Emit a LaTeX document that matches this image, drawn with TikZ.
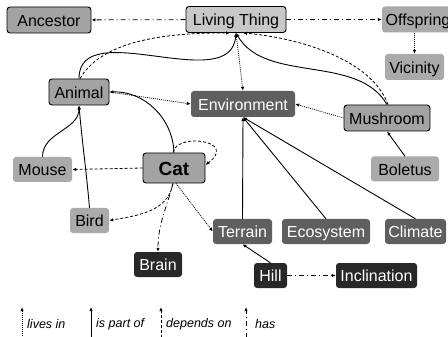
\documentclass[tikz,border=0pt]{standalone}
\usepackage{fontspec}
\setmainfont{Liberation Sans}
\usetikzlibrary{arrows.meta}
\definecolor{ltfill}{HTML}{C8C8C8}
\definecolor{midfill}{HTML}{A3A3A3}
\definecolor{plainfill}{HTML}{AAAAAA}
\definecolor{darkfill}{HTML}{5F5F5F}
\definecolor{blackfill}{HTML}{282828}
\begin{document}
\begin{tikzpicture}[x=1pt,y=-1pt,
  box/.style={rounded corners=3pt, inner sep=0pt, minimum height=26pt,
    font=\fontsize{16}{19}\selectfont, text height=12.6pt, text depth=0pt},
  bordered/.style={box, fill=midfill, draw=black, line width=0.9pt},
  lightbox/.style={box, fill=ltfill, draw=black, line width=0.9pt},
  plain/.style={box, fill=plainfill},
  darkbox/.style={box, fill=darkfill, text=white},
  blackbox/.style={box, fill=blackfill, text=white},
  catfont/.style={font=\fontsize{19}{22}\selectfont\bfseries, text height=14.5pt},
  tip/.style={-{Latex[length=4pt,width=3.4pt]}},
  partlink/.style={tip, line width=0.9pt},
  livesinlink/.style={tip, line width=0.75pt, dash pattern=on 1pt off 1pt},
  dependlink/.style={tip, line width=0.8pt, dash pattern=on 3pt off 2pt},
  haslink/.style={tip, line width=0.8pt, dash pattern=on 5pt off 3pt on 1pt off 3pt},
  keytext/.style={anchor=west, inner sep=0pt, font=\fontsize{12.5}{15}\selectfont\itshape}
]
\clip (0,0) rectangle (448,337);
\fill[white] (0,0) rectangle (448,337);

% concepts
\node[bordered, minimum width=84pt]  (anc)     at (49,20)      {Ancestor};
\node[lightbox, minimum width=100pt] (lt)      at (236,19.5)   {Living Thing};
\node[plain, minimum width=72pt]     (off)     at (418,19.5)   {Offspring};
\node[plain, minimum width=59pt]     (vic)     at (414.5,67)   {Vicinity};
\node[bordered, minimum width=60pt]  (animal)  at (79,92)      {Animal};
\node[darkbox, minimum width=104pt]  (env)     at (243,104)    {Environment};
\node[bordered, minimum width=86pt]  (mush)    at (387,118)    {Mushroom};
\node[plain, minimum width=68pt, minimum height=25pt] (bol) at (405,169) {Boletus};
\node[plain, minimum width=59pt, minimum height=25pt] (mouse) at (42.5,169.5) {Mouse};
\node[bordered, catfont, minimum width=62pt, minimum height=30pt] (cat) at (174,168) {Cat};
\node[plain, minimum width=39pt, minimum height=25pt] (bird) at (89.5,220.5) {Bird};
\node[darkbox, minimum width=59pt, minimum height=25pt] (terrain) at (242.5,231.5) {Terrain};
\node[darkbox, minimum width=88pt, minimum height=25pt] (eco)     at (326,231.5)   {Ecosystem};
\node[darkbox, minimum width=61pt, minimum height=25pt] (clim)    at (415.5,231.5) {Climate};
\node[blackbox, minimum width=48pt, minimum height=25pt] (brain) at (158,264.5) {Brain};
\node[blackbox, minimum width=33pt, minimum height=25pt] (hill)  at (270.5,275.5) {Hill};
\node[blackbox, minimum width=81pt, minimum height=25pt] (incl)  at (376.5,275.5) {Inclination};

% "has" relations
\draw[haslink] (lt) -- (anc);
\draw[haslink] (lt) -- (off);
\draw[haslink] (hill) -- (incl);
\draw[haslink] ([xshift=-1pt]cat.south) to[out=-105, in=90] (brain.north);

% "lives in" relations
\draw[livesinlink] (off.south -| vic.north) -- (vic.north);
\draw[livesinlink] (lt.south) -- (env.north);
\draw[livesinlink] (animal.east) -- (env.west);
\draw[livesinlink] (mush.west) -- (env.east);
\draw[livesinlink] ([xshift=2pt]cat.south) -- (terrain.west);

% "is part of" relations
\draw[partlink] (animal.north) to[out=90, in=-95] (lt.south);
\draw[partlink] (mush.north) to[out=120, in=-60, looseness=0.9] (lt.south);
\draw[partlink] (mouse.north) to[out=90, in=-90] (animal.south);
\draw[partlink] (bird.north) to[out=95, in=-85] (animal.south);
\draw[partlink] (cat.north) to[out=92, in=2] (animal.east);
\draw[partlink] (bol.north) -- (mush.south);
\draw[partlink] (terrain.north) -- (env.south);
\draw[partlink] (eco.north) -- (env.south);
\draw[partlink] (clim.north) -- (env.south);
\draw[partlink] (hill.north) -- (terrain.south);

% "depends on" relations
\draw[dependlink] ([xshift=1pt]animal.north) to[out=60, in=180, looseness=0.8] ([xshift=-6pt]lt.south);
\draw[dependlink] ([xshift=1pt]mush.north) to[out=110, in=-5, looseness=0.8] ([xshift=7pt]lt.south);
\draw[dependlink] (cat.west) -- (mouse.east);
\draw[dependlink] ([xshift=-1pt]cat.south) to[out=-100, in=10] (bird.east);
\draw[dependlink] ([xshift=-1pt]cat.north) .. controls +(3,-20) and +(33,-25) .. ([yshift=3pt]cat.east);

% key
\coordinate (k1a) at (22,338);  \coordinate (k1b) at (22,307);
\coordinate (k2a) at (91,338);  \coordinate (k2b) at (91,307);
\coordinate (k3a) at (161,338); \coordinate (k3b) at (161,307);
\coordinate (k4a) at (246,338); \coordinate (k4b) at (246,307);
\draw[livesinlink] (k1a) -- (k1b);
\draw[partlink] (k2a) -- (k2b);
\draw[dependlink] (k3a) -- (k3b);
\draw[haslink] (k4a) -- (k4b);
\node[keytext] (k1) at (27,324) {lives in};
\node[keytext] (k2) at (96,324) {is part of};
\node[keytext] (k3) at (166,324) {depends on};
\node[keytext] (k4) at (255,324) {has};
\end{tikzpicture}
\end{document}
